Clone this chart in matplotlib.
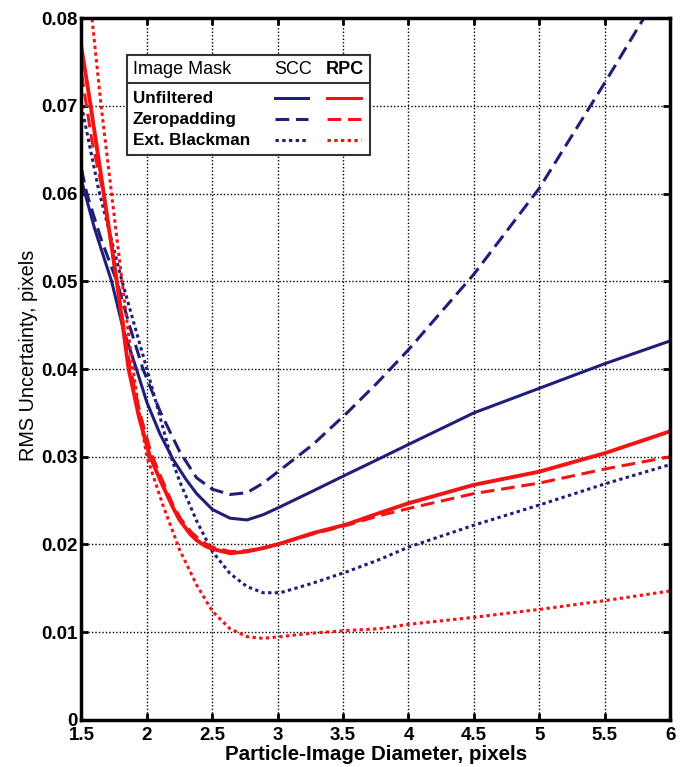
import matplotlib.pyplot as plt
from matplotlib.lines import Line2D
from matplotlib.patches import Rectangle

# values
scc_unf_x = [1.5, 1.6, 1.73, 1.82, 1.92, 2.0, 2.1, 2.2, 2.3, 2.38, 2.5, 2.635, 2.765, 2.89, 3.02,
             3.27, 3.53, 3.78, 4.0, 4.5, 5.0, 5.5, 6.0]
scc_unf_y = [0.0615, 0.056, 0.050, 0.0445, 0.040, 0.0362, 0.0326, 0.0297, 0.0274, 0.0258, 0.0240,
             0.0230, 0.0228, 0.0234, 0.0243, 0.0261, 0.0280, 0.0298, 0.0314, 0.0350, 0.0378,
             0.0406, 0.0432]

scc_zp_x = [1.5, 1.54, 1.65, 1.77, 1.87, 1.97, 2.1, 2.25, 2.38, 2.5, 2.635, 2.765, 2.89, 3.02,
            3.27, 3.53, 3.76, 4.0, 4.5, 5.0, 5.5, 5.8, 5.85]
scc_zp_y = [0.0628, 0.060, 0.0548, 0.050, 0.0448, 0.040, 0.0352, 0.0306, 0.0276, 0.0263, 0.0257,
            0.0259, 0.0270, 0.0285, 0.0314, 0.0350, 0.0384, 0.0422, 0.0508, 0.0606, 0.0726,
            0.080, 0.0815]

scc_bm_x = [1.5, 1.63, 1.81, 2.0, 2.18, 2.25, 2.38, 2.5, 2.635, 2.765, 2.89, 3.02, 3.27, 3.53,
            3.78, 4.0, 4.5, 5.0, 5.5, 6.0]
scc_bm_y = [0.070, 0.0605, 0.050, 0.040, 0.0302, 0.0272, 0.0227, 0.0192, 0.0167, 0.0152, 0.0145,
            0.0145, 0.0156, 0.0169, 0.0183, 0.0197, 0.0222, 0.0245, 0.0269, 0.0291]

rpc_unf_x = [1.5, 1.57, 1.67, 1.77, 1.86, 1.94, 2.02, 2.1, 2.2, 2.25, 2.33, 2.38, 2.45, 2.5, 2.635,
             2.765, 2.89, 3.02, 3.27, 3.53, 3.78, 4.0, 4.5, 5.0, 5.5, 6.0]
rpc_unf_y = [0.0766, 0.070, 0.060, 0.050, 0.040, 0.0345, 0.0302, 0.0274, 0.0242, 0.0228, 0.0212,
             0.0205, 0.0198, 0.0195, 0.0190, 0.0192, 0.0196, 0.0201, 0.0213, 0.0223, 0.0236,
             0.0247, 0.0268, 0.0283, 0.0304, 0.0329]

rpc_zp_x = [1.5, 1.58, 1.67, 1.77, 1.87, 1.95, 2.03, 2.11, 2.2, 2.26, 2.34, 2.4, 2.46, 2.5, 2.635,
            2.765, 2.89, 3.02, 3.27, 3.53, 3.78, 4.0, 4.5, 5.0, 5.5, 6.0]
rpc_zp_y = [0.0737, 0.066, 0.0598, 0.050, 0.0403, 0.0348, 0.0305, 0.0276, 0.0245, 0.0229, 0.0214,
            0.0206, 0.0200, 0.0197, 0.0192, 0.0193, 0.0196, 0.0201, 0.0212, 0.0222, 0.0233,
            0.0241, 0.0258, 0.0270, 0.0286, 0.0300]

rpc_bm_x = [1.5, 1.58, 1.65, 1.73, 1.81, 1.88, 1.94, 2.0, 2.12, 2.25, 2.38, 2.5, 2.635, 2.765,
            2.89, 3.02, 3.27, 3.53, 3.78, 4.0, 4.5, 5.0, 5.5, 6.0]
rpc_bm_y = [0.088, 0.080, 0.070, 0.060, 0.050, 0.0415, 0.0352, 0.030, 0.0246, 0.0194, 0.0154,
            0.0124, 0.0104, 0.0095, 0.0093, 0.0095, 0.0099, 0.0102, 0.0104, 0.0109, 0.0117,
            0.0126, 0.0136, 0.0147]

x_ticks = [1.5, 2, 2.5, 3, 3.5, 4, 4.5, 5, 5.5, 6]
x_tick_labels = ['1.5', '2', '2.5', '3', '3.5', '4', '4.5', '5', '5.5', '6']
y_ticks = [0, 0.01, 0.02, 0.03, 0.04, 0.05, 0.06, 0.07, 0.08]
y_tick_labels = ['0', '0.01', '0.02', '0.03', '0.04', '0.05', '0.06', '0.07', '0.08']

row_names = ['Unfiltered', 'Zeropadding', 'Ext. Blackman']

navy = '#1f1f78'
red = '#f21414'
solid = '-'
dashed = (0, (4.5, 2.2))
dotted = (0, (1.1, 1.1))
styles = [solid, dashed, dotted]

plt.rcParams['font.family'] = ['Liberation Sans', 'DejaVu Sans']

fig = plt.figure(figsize=(6.82, 7.67), dpi=100)
ax = fig.add_axes([0.1195, 0.0613, 0.863, 0.9152])

lw = 2.2
ax.plot(scc_unf_x, scc_unf_y, color=navy, lw=lw, ls=solid)
ax.plot(scc_zp_x, scc_zp_y, color=navy, lw=lw, ls=dashed)
ax.plot(scc_bm_x, scc_bm_y, color=navy, lw=lw, ls=dotted)
ax.plot(rpc_unf_x, rpc_unf_y, color=red, lw=lw + 0.6, ls=solid)
ax.plot(rpc_zp_x, rpc_zp_y, color=red, lw=lw, ls=dashed)
ax.plot(rpc_bm_x, rpc_bm_y, color=red, lw=lw, ls=dotted)

ax.set_xlim(1.5, 6)
ax.set_ylim(0, 0.08)
ax.set_xticks(x_ticks)
ax.set_xticklabels(x_tick_labels, fontsize=13.5, fontweight='bold')
ax.set_yticks(y_ticks)
ax.set_yticklabels(y_tick_labels, fontsize=13.5, fontweight='bold')
ax.tick_params(direction='in', length=5, width=2, top=True, right=True)
ax.tick_params(axis='y', pad=3)
ax.tick_params(axis='x', pad=5)
ax.grid(True, color='black', ls=(0, (1, 1.5)), lw=1.0)
for s in ax.spines.values():
    s.set_linewidth(2.5)

ax.set_xlabel('Particle-Image Diameter, pixels', fontsize=14.8, fontweight='bold')
ax.xaxis.set_label_coords(0.5, -0.035)
ax.set_ylabel('RMS Uncertainty, pixels', fontsize=14.3)
ax.yaxis.set_label_coords(-0.074, 0.52)

# table-like legend box
tr = ax.transAxes
ax.add_patch(Rectangle((0.0773, 0.805), 0.413, 0.142, transform=tr, facecolor='white',
                       edgecolor='#333333', lw=1.5, zorder=5))
ax.add_line(Line2D([0.0773, 0.4903], [0.907, 0.907], transform=tr, color='#333333', lw=1.5, zorder=6))
ax.text(0.0875, 0.927, 'Image Mask', transform=tr, fontsize=13, va='center', ha='left', zorder=7)
ax.text(0.359, 0.927, 'SCC', transform=tr, fontsize=13, va='center', ha='center', zorder=7)
ax.text(0.448, 0.927, 'RPC', transform=tr, fontsize=13, fontweight='bold', va='center', ha='center', zorder=7)
row_y = [0.886, 0.856, 0.826]
for name, yy, st in zip(row_names, row_y, styles):
    ax.text(0.0875, yy, name, transform=tr, fontsize=12.3, fontweight='bold', va='center', ha='left', zorder=7)
    ax.add_line(Line2D([0.329, 0.385], [yy, yy], transform=tr, color=navy, lw=lw, ls=st, zorder=7))
    ax.add_line(Line2D([0.417, 0.475], [yy, yy], transform=tr, color=red, lw=lw, ls=st, zorder=7))

fig.savefig('out.png', dpi=100)
